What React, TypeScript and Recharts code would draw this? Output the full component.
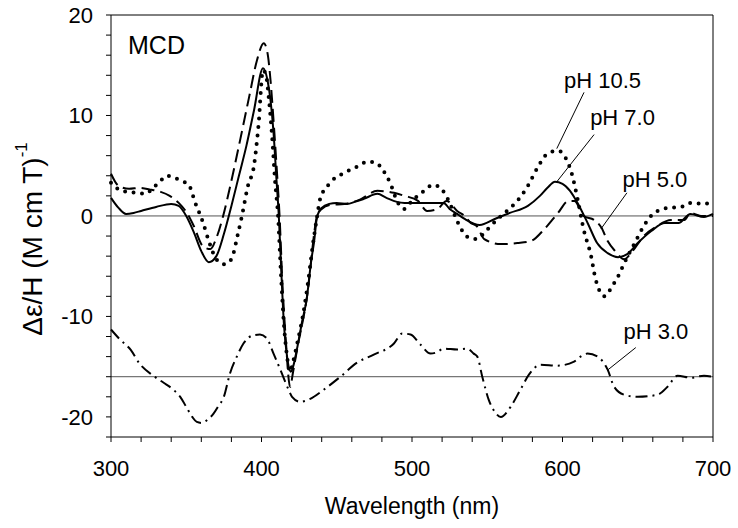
import React from 'react';
import { LineChart, Line, XAxis, YAxis, ReferenceLine, ReferenceDot } from 'recharts';

// wavelength (nm) / delta-epsilon values, one pair of arrays per pH
const wl7 = [300, 305, 310, 315, 320, 330, 340, 345, 350, 355, 360, 365, 370, 375, 380, 385, 390, 395, 401, 404, 406, 408, 410, 411.5, 413, 415, 417, 419.5, 421, 423.5, 427, 430, 433, 435, 437, 440, 445, 450, 457, 462, 468, 477, 483, 490, 495, 505, 512, 521, 525, 530, 535, 545, 555, 565, 577, 585, 590, 595, 600, 605, 610, 617, 623, 630, 637, 643, 650, 659, 668, 677, 685, 694, 700];
const ph7 = [1.8, 0.8, 0.2, 0.3, 0.5, 0.9, 1.2, 1.0, 0.0, -1.6, -3.5, -4.6, -4.0, -1.8, 1.0, 4.0, 7.0, 10.5, 14.7, 13.5, 11.5, 8.3, 3.5, 0, -5, -11, -14, -15.5, -15, -13.3, -10.5, -8.3, -4.5, -2.5, 0, 0.8, 1.2, 1.3, 1.2, 1.4, 1.7, 2.2, 1.8, 1.4, 1.3, 1.3, 1.3, 1.3, 0.7, 0.2, -0.3, -0.9, -0.3, 0.3, 1.0, 2.0, 2.8, 3.4, 3.2, 2.5, 1.3, -0.8, -2.7, -3.7, -4.1, -3.8, -2.7, -1.5, -0.7, -0.7, 0.2, -0.1, 0.2];

const wl5 = [300, 305, 312, 319, 327, 333, 339, 345, 350, 355, 361, 366, 370, 374.5, 380, 386, 392, 397, 401.5, 404, 406, 408, 410, 412, 414, 416, 419, 421, 424, 430, 437, 440, 446, 455, 465, 477, 488, 495, 504, 510, 517, 523, 530, 535, 539, 543, 548, 559, 570, 579, 588, 597, 604, 608, 614, 621, 626, 630, 635, 641, 646, 654, 663, 672, 681, 685, 692, 700];
const ph5 = [4.2, 3.0, 2.7, 2.8, 2.6, 2.4, 2.0, 1.3, 0.4, -1.0, -3.0, -3.3, -2.2, 0, 3.5, 7.7, 12.0, 15.5, 17.2, 16.2, 13.5, 9.5, 5.0, 0, -7, -12, -17.0, -15.5, -13, -8.3, 0, 0.7, 1.1, 1.2, 1.6, 2.5, 2.3, 2.0, 1.5, 0.5, 0.7, 1.5, 0.5, 0, -0.7, -1.0, -2.3, -2.8, -2.7, -2.5, -1.3, 0.3, 1.5, 1.5, 0, -0.4, -1.2, -2.5, -3.5, -4.3, -3.6, -2.0, -1.0, -0.4, -0.4, 0.3, 0.0, 0];

const wl105 = [300, 307, 317, 323, 328, 333, 337, 342, 347, 352, 356, 359, 361, 365, 370, 375, 379, 381, 384, 387, 391, 395, 398, 401, 403, 405, 407, 409, 411, 413, 415, 417, 419, 421, 424, 428, 431, 434, 437, 439, 445, 455, 465, 470, 476, 480, 486, 490, 495, 500, 508, 514, 520, 525, 530, 537, 543, 546, 551, 557, 563, 570, 577, 583, 590, 597, 602, 606, 610, 614, 619, 622, 628, 633, 637, 641, 648, 654, 661, 670, 679, 685, 694, 700];
const ph105 = [3.3, 2.5, 2.3, 2.2, 2.8, 3.5, 4.0, 3.8, 3.5, 3.0, 1.3, 0.2, -0.6, -2.5, -4.3, -4.8, -4.5, -3.9, -2.0, 0, 3.0, 5.0, 9.0, 14.5, 14.0, 11.5, 8.0, 3.5, 0, -6, -11, -14, -15.5, -14.5, -12.5, -9.5, -6.5, -3.0, 0, 1.7, 3.2, 4.3, 5.0, 5.4, 5.3, 4.7, 3.1, 1.5, 0.7, 1.5, 2.5, 3.1, 2.6, 1.3, -0.5, -2.1, -2.3, -2.0, -1.2, -0.3, 0.5, 1.5, 3.0, 4.7, 6.2, 6.5, 5.8, 4.3, 1.7, -1.3, -4.0, -6.3, -8.0, -7.0, -6.0, -4.7, -2.7, -1.0, 0.3, 0.8, 0.9, 1.3, 1.2, 1.5];

const wl3 = [300, 306, 313, 319, 328, 335, 341.5, 346, 350, 354, 357, 360.5, 364, 368, 371, 375, 379, 383.6, 388, 394, 399, 403.6, 408, 412.5, 418, 420.3, 425.8, 432.4, 441.3, 452.4, 463.5, 474.6, 488, 493.5, 499, 505.6, 512.3, 516, 521.2, 530, 536.7, 541, 543.4, 546.7, 551, 555, 559, 565.5, 572, 577.7, 585.5, 596.6, 607.7, 612, 616.6, 623.3, 630, 634.3, 641, 650, 663, 669.8, 676.5, 685.4, 694, 700];
const ph3 = [-11.3, -12.3, -13.3, -14.7, -15.9, -16.6, -17.3, -18.0, -19.0, -20.0, -20.5, -20.6, -20.3, -19.7, -19.0, -18.0, -15.7, -14.0, -12.7, -11.9, -11.8, -12.2, -13.7, -15.3, -17.3, -18.0, -18.5, -18.2, -17.3, -16.0, -14.6, -13.8, -12.7, -11.7, -11.8, -12.8, -13.7, -13.6, -13.2, -13.3, -13.2, -13.7, -14.0, -16.0, -18.3, -19.5, -20.0, -19.0, -17.3, -15.8, -14.8, -14.9, -14.5, -14.0, -13.7, -14.0, -15.3, -17.0, -17.8, -18.0, -17.8, -17.0, -15.9, -16.1, -15.9, -16.0];

const xTicks = [300, 320, 340, 360, 380, 400, 420, 440, 460, 480, 500, 520, 540, 560, 580, 600, 620, 640, 660, 680, 700];
const yTicks = [-22, -20, -18, -16, -14, -12, -10, -8, -6, -4, -2, 0, 2, 4, 6, 8, 10, 12, 14, 16, 18, 20];

const pts = (w: number[], v: number[]) => w.map((x, i) => ({ w: x, v: v[i] }));

const font = '"Liberation Sans", Arial, sans-serif';
const tickStyle = { fontSize: 22, fill: '#000', fontFamily: font };
const blank = () => '';

function YTitle(props: any) {
  const { viewBox } = props;
  const cx = viewBox.x + 32;
  const cy = viewBox.y + viewBox.height / 2 + 13;
  return (
    <text x={cx} y={cy} transform={`rotate(-90, ${cx}, ${cy})`} textAnchor="middle"
      dominantBaseline="central" fontSize={28} fontFamily={font} fill="#000">
      Δε/H (M cm T)<tspan dy={-11} fontSize={17}>-1</tspan>
    </text>
  );
}

const ax = { xAxisId: 'b', yAxisId: 'l' };
const labelStyle = { fontSize: 22, fill: '#000', fontFamily: font };

export default function App() {
  return (
    <div style={{ position: 'absolute', left: 0, top: 0, background: '#fff' }}>
      <LineChart width={738} height={528} margin={{ top: 15, right: 25, left: 0, bottom: 1 }}>
        <XAxis xAxisId="b" dataKey="w" type="number" domain={[300, 700]} ticks={xTicks} interval={0}
          tickFormatter={(v) => (v % 100 === 0 ? String(v) : '')} tickSize={5} tickMargin={18}
          height={90} stroke="#000" tickLine={{ stroke: '#000' }} tick={tickStyle}
          label={{ value: 'Wavelength (nm)', position: 'insideBottom', offset: 13, style: { fontSize: 23, fill: '#000', fontFamily: font } }} />
        <XAxis xAxisId="t" orientation="top" dataKey="w" type="number" domain={[300, 700]} ticks={xTicks}
          interval={0} tickFormatter={blank} tickSize={5} mirror height={1} stroke="#000" tickLine={{ stroke: '#000' }} />
        <YAxis yAxisId="l" type="number" domain={[-22, 20]} ticks={yTicks} interval={0}
          tickFormatter={(v) => (v % 10 === 0 ? String(v) : '')} tickSize={5} tickMargin={13}
          width={111} stroke="#000" tickLine={{ stroke: '#000' }} tick={tickStyle} label={<YTitle />} />
        <YAxis yAxisId="r" orientation="right" type="number" domain={[-22, 20]} ticks={yTicks}
          interval={0} tickFormatter={blank} tickSize={5} mirror width={1} stroke="#000" tickLine={{ stroke: '#000' }} />

        <ReferenceLine {...ax} y={0} stroke="#555" strokeWidth={1} />
        <ReferenceLine {...ax} y={-16} stroke="#555" strokeWidth={1} />

        <Line {...ax} data={pts(wl3, ph3)} dataKey="v" type="monotone" stroke="#000" strokeWidth={2}
          strokeDasharray="12 5 2 5" dot={false} isAnimationActive={false} />
        <Line {...ax} data={pts(wl105, ph105)} dataKey="v" type="monotone" stroke="#000" strokeWidth={4}
          strokeDasharray="0 8.5" strokeLinecap="round" dot={false} isAnimationActive={false} />
        <Line {...ax} data={pts(wl5, ph5)} dataKey="v" type="monotone" stroke="#000" strokeWidth={2}
          strokeDasharray="13 6" dot={false} isAnimationActive={false} />
        <Line {...ax} data={pts(wl7, ph7)} dataKey="v" type="monotone" stroke="#000" strokeWidth={2}
          dot={false} isAnimationActive={false} />

        {/* leader lines from the labels to their curves */}
        <ReferenceLine {...ax} segment={[{ x: 614.3, y: 12.3 }, { x: 596.2, y: 6.7 }]} stroke="#000" strokeWidth={1} />
        <ReferenceLine {...ax} segment={[{ x: 621, y: 8.1 }, { x: 596.2, y: 3.4 }]} stroke="#000" strokeWidth={1} />
        <ReferenceLine {...ax} segment={[{ x: 642.8, y: 2.3 }, { x: 625.5, y: -1.3 }]} stroke="#000" strokeWidth={1} />
        <ReferenceLine {...ax} segment={[{ x: 648.7, y: -13.1 }, { x: 630.3, y: -15.3 }]} stroke="#000" strokeWidth={1} />

        <ReferenceDot {...ax} x={311.3} y={17} r={0} stroke="none"
          label={{ value: 'MCD', position: 'right', offset: 0, style: { fontSize: 25, fill: '#000', fontFamily: font } }} />
        <ReferenceDot {...ax} x={626.6} y={13.5} r={0} stroke="none" label={{ value: 'pH 10.5', position: 'center', style: labelStyle }} />
        <ReferenceDot {...ax} x={639.9} y={9.8} r={0} stroke="none" label={{ value: 'pH 7.0', position: 'center', style: labelStyle }} />
        <ReferenceDot {...ax} x={661.4} y={3.7} r={0} stroke="none" label={{ value: 'pH 5.0', position: 'center', style: labelStyle }} />
        <ReferenceDot {...ax} x={662} y={-11.5} r={0} stroke="none" label={{ value: 'pH 3.0', position: 'center', style: labelStyle }} />
      </LineChart>
    </div>
  );
}
